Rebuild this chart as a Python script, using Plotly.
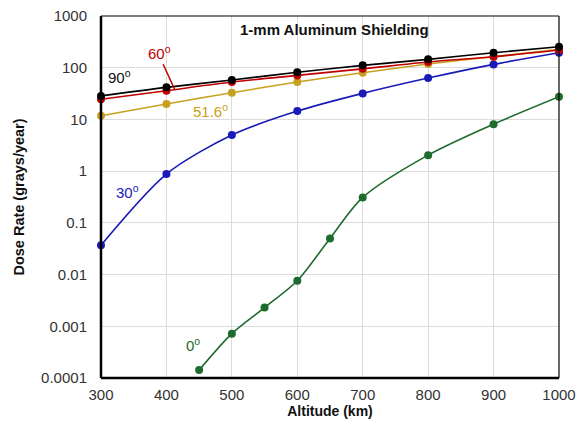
import math
import plotly.graph_objects as go

alt = [300, 400, 500, 600, 700, 800, 900, 1000]
dose_90 = [28.5, 41.7, 57.8, 81.5, 111, 145, 195, 255]
dose_60 = [24.5, 35.9, 52.8, 71, 95, 129, 163, 220]
dose_516 = [11.8, 19.9, 32.9, 52.8, 80, 118, 163, 226]
dose_30 = [0.037, 0.88, 5.0, 14.5, 31.9, 63, 116, 195]
alt_0 = [450, 500, 550, 600, 650, 700, 800, 900, 1000]
dose_0 = [0.000142, 0.00072, 0.0023, 0.0076, 0.05, 0.31, 2.04, 8.1, 27.5]

x_ticks = [300, 400, 500, 600, 700, 800, 900, 1000]
y_ticks = [0.0001, 0.001, 0.01, 0.1, 1, 10, 100, 1000]
y_tick_text = ["0.0001", "0.001", "0.01", "0.1", "1", "10", "100", "1000"]

C0, C30, C516, C60, C90 = "#1e6b2e", "#1a1ab8", "#c8a020", "#c00000", "#000000"

series = [
    (alt_0, dose_0, C0, "0°"),
    (alt, dose_30, C30, "30°"),
    (alt, dose_516, C516, "51.6°"),
    (alt, dose_60, C60, "60°"),
    (alt, dose_90, C90, "90°"),
]

fig = go.Figure()
for xs, ys, col, name in series:
    fig.add_trace(go.Scatter(
        x=xs, y=ys, mode="lines+markers", name=name,
        line=dict(color=col, width=1.6, shape="spline", smoothing=0.8),
        marker=dict(color=col, size=8),
        showlegend=False, cliponaxis=False,
    ))

font = "Arial, Liberation Sans, sans-serif"
fig.update_layout(
    width=577, height=432,
    margin=dict(l=101, r=18, t=16, b=54),
    paper_bgcolor="white", plot_bgcolor="white",
    font=dict(family=font, size=15, color="#333333"),
)
fig.update_xaxes(
    range=[300, 1000], tickvals=x_ticks, automargin=False,
    showgrid=True, gridcolor="#dcdcdc", gridwidth=1,
    showline=False, zeroline=False, ticks="", ticklabelstandoff=6,
    tickfont=dict(size=15, color="#333333"),
    title=dict(text="<b>Altitude (km)</b>", font=dict(size=14, color="#111111"), standoff=4),
)
fig.update_yaxes(
    type="log", range=[-4, 3], tickvals=y_ticks, ticktext=y_tick_text, automargin=False,
    showgrid=True, gridcolor="#dcdcdc", gridwidth=1,
    showline=False, zeroline=False, ticks="", ticklabelstandoff=13,
    tickfont=dict(size=15, color="#333333"),
    title=dict(text="<b>Dose Rate (grays/year)</b>", font=dict(size=14.5, color="#111111"), standoff=13),
)

# frame: thick left/bottom, thin top/right
fig.add_shape(type="line", xref="paper", yref="paper", x0=0, x1=1, y0=1, y1=1,
              line=dict(color="black", width=1.2))
fig.add_shape(type="line", xref="paper", yref="paper", x0=1, x1=1, y0=0, y1=1,
              line=dict(color="black", width=1.2))
fig.add_shape(type="line", xref="paper", yref="paper", x0=0, x1=0, y0=0, y1=1,
              line=dict(color="black", width=2.5))
fig.add_shape(type="line", xref="paper", yref="paper", x0=0, x1=1, y0=0, y1=0,
              line=dict(color="black", width=2.5))

fig.add_annotation(xref="paper", yref="paper", x=0.510, y=0.962, yanchor="middle",
                   text="<b>1-mm Aluminum Shielding</b>",
                   showarrow=False, font=dict(size=15, color="#111111"))

lf = 15
fig.add_annotation(x=329, y=math.log10(69), text="90<sup>o</sup>", showarrow=False,
                   font=dict(size=lf, color="#111111"))
fig.add_annotation(x=340, y=math.log10(0.4), text="30<sup>o</sup>", showarrow=False,
                   font=dict(size=lf, color=C30))
fig.add_annotation(x=441, y=math.log10(0.00045), text="0<sup>o</sup>", showarrow=False,
                   font=dict(size=lf, color=C0))
fig.add_annotation(x=468, y=math.log10(15), text="51.6<sup>o</sup>", showarrow=False,
                   font=dict(size=lf, color=C516))
fig.add_annotation(x=390, y=math.log10(200), text="60<sup>o</sup>", showarrow=False,
                   font=dict(size=lf, color=C60))
fig.add_annotation(x=413, y=math.log10(37), ax=394, ay=math.log10(125), axref="x", ayref="y",
                   text="", showarrow=True, arrowhead=0, arrowwidth=1.5,
                   arrowcolor=C60)

fig.write_html("out.html", config={"displayModeBar": False},
               post_script="document.body.style.margin='0';document.body.style.overflow='hidden';")
